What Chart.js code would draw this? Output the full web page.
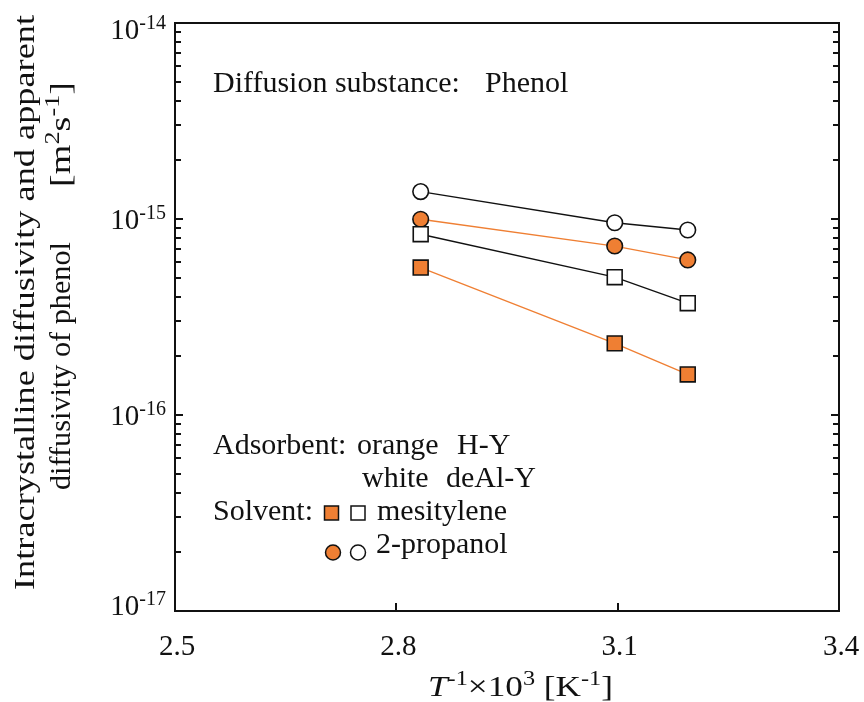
<!DOCTYPE html>
<html>
<head>
<meta charset="utf-8">
<script src="https://cdn.jsdelivr.net/npm/chart.js@4.4.0/dist/chart.umd.min.js"></script>
<style>
  html, body { margin: 0; padding: 0; background: #fff; }
</style>
</head>
<body>
<canvas id="diffChart" width="864" height="702"></canvas>
<script>
// T^-1 x 10^3 [K^-1]
const invTemp = [2.833, 3.096, 3.195];
// diffusivities [m2 s-1]
const dealYPropanol = [1.38e-15, 0.957e-15, 0.879e-15];
const hYPropanol = [0.997e-15, 0.728e-15, 0.618e-15];
const dealYMesitylene = [0.836e-15, 0.505e-15, 0.372e-15];
const hYMesitylene = [0.565e-15, 0.232e-15, 0.161e-15];
const xTicks = [2.5, 2.8, 3.1, 3.4];
const yExponents = [-14, -15, -16, -17];

const ORANGE = '#ef7f33';
const SERIF = '"Liberation Serif", "Times New Roman", serif';
const F = (s, style) => (style ? style + ' ' : '') + s + 'px ' + SERIF;

const pts = (ys) => ys.map((y, i) => ({ x: invTemp[i], y: y }));

// draws a run of text pieces; if fitW is given the run is stretched to that width
function richText(ctx, parts, x, y, align, fitW) {
    let w = 0;
    parts.forEach(p => { ctx.font = p.font; p.w = ctx.measureText(p.t).width; w += p.w; });
    const k = fitW ? fitW / w : 1;
    const total = w * k;
    let cx = align === 'right' ? x - total : align === 'center' ? x - total / 2 : x;
    ctx.save();
    ctx.translate(cx, y);
    ctx.scale(k, 1);
    let ox = 0;
    parts.forEach(p => {
        ctx.font = p.font;
        ctx.fillText(p.t, ox, -(p.up || 0));
        ox += p.w;
    });
    ctx.restore();
}

const decorations = {
    id: 'decorations',
    afterDraw(chart) {
        const ctx = chart.ctx;
        const area = chart.chartArea;
        const xs = chart.scales.x, ys = chart.scales.y;
        ctx.save();
        ctx.strokeStyle = '#111';
        ctx.fillStyle = '#111';
        ctx.lineWidth = 2;
        // frame
        ctx.strokeRect(area.left, area.top, area.right - area.left, area.bottom - area.top);

        // x ticks (inward)
        ctx.beginPath();
        xTicks.forEach(v => {
            const px = Math.round(xs.getPixelForValue(v));
            ctx.moveTo(px, area.bottom);
            ctx.lineTo(px, area.bottom - 8);
        });
        // y ticks, major + minor, left and right
        for (let e = -17; e <= -14; e++) {
            for (let m = 1; m <= 9; m++) {
                if (e === -14 && m > 1) break;
                const py = Math.round(ys.getPixelForValue(m * Math.pow(10, e)));
                const len = m === 1 ? 8 : 6;
                ctx.moveTo(area.left, py);
                ctx.lineTo(area.left + len, py);
                ctx.moveTo(area.right, py);
                ctx.lineTo(area.right - len, py);
            }
        }
        ctx.stroke();

        ctx.textAlign = 'left';
        ctx.textBaseline = 'alphabetic';

        // y tick labels
        yExponents.forEach(e => {
            const py = ys.getPixelForValue(Math.pow(10, e));
            const mid = Math.min(Math.max(py, 29), 605);
            richText(ctx, [
                { t: '10', font: F(29) },
                { t: '-' + (-e), font: F(20), up: 10 }
            ], 166, mid + 10, 'right');
        });

        // x tick labels
        xTicks.forEach(v => {
            const px = xs.getPixelForValue(v);
            richText(ctx, [{ t: v.toFixed(1), font: F(29) }], px + 2, 655, 'center');
        });

        // x title
        richText(ctx, [
            { t: 'T', font: F(29, 'italic') },
            { t: '-1', font: F(20), up: 11 },
            { t: '\u00d710', font: F(29) },
            { t: '3', font: F(20), up: 11 },
            { t: ' [K', font: F(29) },
            { t: '-1', font: F(20), up: 11 },
            { t: ']', font: F(29) }
        ], 428, 696, 'left', 185);

        // y title (two lines, rotated)
        ctx.save();
        ctx.translate(34, 0);
        ctx.rotate(-Math.PI / 2);
        richText(ctx, [{ t: 'Intracrystalline diffusivity and apparent', font: F(29) }], -590, 0, 'left', 575);
        ctx.restore();
        ctx.save();
        ctx.translate(70, 0);
        ctx.rotate(-Math.PI / 2);
        richText(ctx, [{ t: 'diffusivity of phenol', font: F(29) }], -490, 0, 'left', 248);
        richText(ctx, [
            { t: '[m', font: F(29) },
            { t: '2', font: F(20), up: 11 },
            { t: 's', font: F(29) },
            { t: '-1', font: F(20), up: 11 },
            { t: ']', font: F(29) }
        ], -187, 0, 'left', 105);
        ctx.restore();

        // annotation
        ctx.font = F(30);
        ctx.fillText('Diffusion substance:', 213, 92);
        ctx.fillText('Phenol', 485, 92);

        // key
        ctx.fillText('Adsorbent:', 213, 454);
        ctx.fillText('orange', 357, 454);
        ctx.fillText('H-Y', 457, 454);
        ctx.fillText('white', 362, 487);
        ctx.fillText('deAl-Y', 446, 487);
        ctx.fillText('Solvent:', 213, 520);
        ctx.fillText('mesitylene', 377, 520);
        ctx.fillText('2-propanol', 376, 553);

        ctx.lineWidth = 1.5;
        ctx.strokeStyle = '#111';
        [[331.5, ORANGE], [358, '#fff']].forEach(([cx, fill]) => {
            ctx.fillStyle = fill;
            ctx.fillRect(cx - 7, 506, 14, 14);
            ctx.strokeRect(cx - 7, 506, 14, 14);
        });
        [[333, ORANGE], [358, '#fff']].forEach(([cx, fill]) => {
            ctx.beginPath();
            ctx.arc(cx, 552.5, 7.5, 0, Math.PI * 2);
            ctx.fillStyle = fill;
            ctx.fill();
            ctx.stroke();
        });
        ctx.restore();
    }
};

const series = (data, line, fill, style, r) => ({
    data: pts(data),
    showLine: true,
    borderColor: line,
    borderWidth: 1.3,
    pointStyle: style,
    pointRadius: r,
    pointHoverRadius: r,
    pointBackgroundColor: fill,
    pointBorderColor: '#111',
    pointBorderWidth: 1.6,
    tension: 0
});

new Chart(document.getElementById('diffChart'), {
    type: 'scatter',
    data: {
        datasets: [
            series(hYMesitylene, ORANGE, ORANGE, 'rect', 10.5),
            series(dealYMesitylene, '#111', '#fff', 'rect', 10.5),
            series(hYPropanol, ORANGE, ORANGE, 'circle', 7.8),
            series(dealYPropanol, '#111', '#fff', 'circle', 7.8)
        ]
    },
    plugins: [decorations],
    options: {
        responsive: false,
        animation: false,
        devicePixelRatio: 1,
        layout: { padding: { left: 175, right: 25, top: 23, bottom: 91 } },
        plugins: { legend: { display: false }, tooltip: { enabled: false } },
        scales: {
            x: {
                type: 'linear', min: 2.5, max: 3.4,
                grid: { display: false, drawTicks: false },
                border: { display: false },
                ticks: { display: false }
            },
            y: {
                type: 'logarithmic', min: 1e-17, max: 1e-14,
                grid: { display: false, drawTicks: false },
                border: { display: false },
                ticks: { display: false }
            }
        }
    }
});
</script>
</body>
</html>
